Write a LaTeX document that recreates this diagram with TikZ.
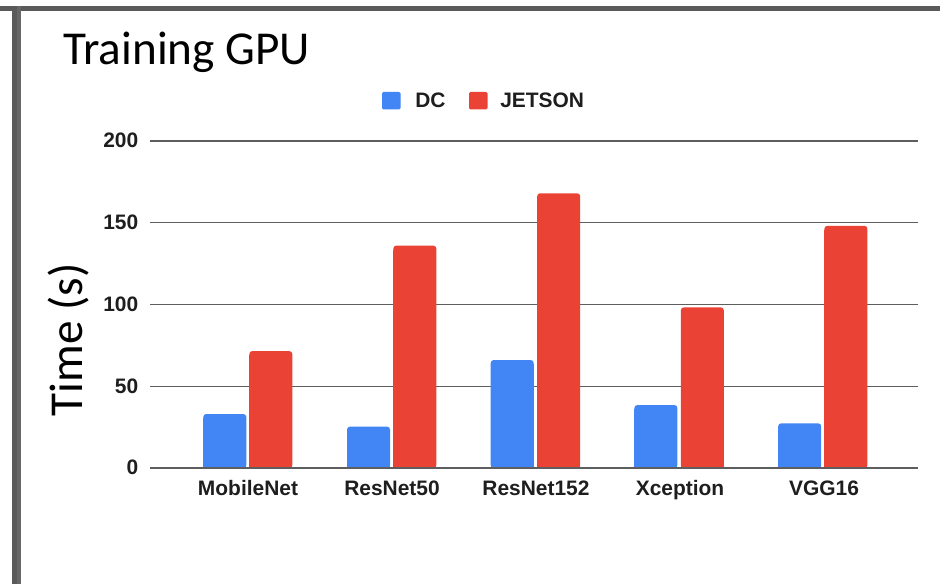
\documentclass[tikz,border=0pt]{standalone}
\usepackage{fontspec}
\setmainfont{Carlito}
\newfontfamily\chartfont{Liberation Sans}
\definecolor{dcblue}{HTML}{4285F4}
\definecolor{jetred}{HTML}{EA4335}
\definecolor{gridc}{HTML}{5E5E5E}
\definecolor{framec}{HTML}{5A5A5A}
\definecolor{framec2}{HTML}{676767}
\definecolor{labc}{HTML}{1E1E1E}
\tikzset{
  lab/.style={font=\chartfont\bfseries\fontsize{15.7}{18}\selectfont, text=labc, inner sep=0pt},
  gridline/.style={draw=gridc, line width=0.9pt},
}
\newcommand\chartbar[4]{% name, left x, value, colour
  \fill[#4, rounded corners=2.2pt] (#2,{468-#3*1.635}) rectangle ({#2+43},468);
  \fill[#4] (#2,{468-#3*1.635+4}) rectangle ({#2+43},468);
  \coordinate (#1) at ({#2+21.5},{468-#3*1.635});
}
\begin{document}
\begin{tikzpicture}[x=0.75pt,y=-0.75pt]
\useasboundingbox (0,0) rectangle (940,584);
\fill[white] (0,0) rectangle (940,584);
% frame
\fill[framec] (0,6) rectangle (940,11);
\fill[framec] (12,6) rectangle (16.7,584);
\fill[framec2] (16.7,6) rectangle (21.3,584);
% title
\node[anchor=base west, inner sep=0pt, font=\fontsize{35.4}{40}\selectfont] (title) at (63,65) {Training GPU};
\node[rotate=90, anchor=base, inner sep=0pt, font=\fontsize{35.4}{40}\selectfont] (ylab) at (82,340) {Time (s)};
% legend
\fill[dcblue, rounded corners=1pt] (382,92) rectangle (400.5,109.5);
\node[lab, anchor=base west] (lgdc) at (415,107.3) {DC};
\fill[jetred, rounded corners=1pt] (469,92) rectangle (487.5,109.5);
\node[lab, anchor=base west] (lgjet) at (500,107.3) {JETSON};
% grid
\foreach \v/\n in {50/g50,100/g100,150/g150,200/g200}{
  \coordinate (\n a) at (150,{468-\v*1.635});
  \coordinate (\n b) at (918,{468-\v*1.635});
  \draw[gridline] (\n a) -- (\n b);
}
\foreach \v/\n in {0/t0,50/t50,100/t100,150/t150,200/t200}{
  \node[lab, anchor=base east] (\n) at (138.5,{468-\v*1.635+7}) {\v};
}
% bars
\chartbar{b1}{203.3}{33.0}{dcblue}
\chartbar{r1}{249.3}{71.5}{jetred}
\chartbar{b2}{347.0}{25.3}{dcblue}
\chartbar{r2}{393.3}{136.0}{jetred}
\chartbar{b3}{490.7}{66.0}{dcblue}
\chartbar{r3}{537.2}{168.0}{jetred}
\chartbar{b4}{634.4}{38.5}{dcblue}
\chartbar{r4}{680.8}{98.2}{jetred}
\chartbar{b5}{778.2}{27.3}{dcblue}
\chartbar{r5}{824.4}{148.1}{jetred}
% zero line
\coordinate (z0a) at (150,468);
\coordinate (z0b) at (918,468);
\draw[gridline] (z0a) -- (z0b);
% category labels
\node[lab, anchor=base] (c1) at (248,496) {MobileNet};
\node[lab, anchor=base] (c2) at (392,496) {ResNet50};
\node[lab, anchor=base] (c3) at (536,496) {ResNet152};
\node[lab, anchor=base] (c4) at (680,496) {Xception};
\node[lab, anchor=base] (c5) at (824,496) {VGG16};
\end{tikzpicture}
\end{document}
